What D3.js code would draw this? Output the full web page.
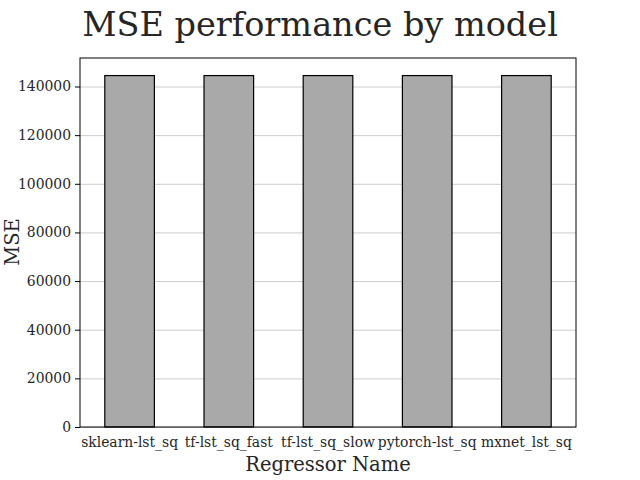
<!DOCTYPE html>
<html><head><meta charset="utf-8">
<script src="https://cdn.jsdelivr.net/npm/d3@7"></script>
<style>body{margin:0;background:#fff}svg{display:block}text{font-family:"DejaVu Serif",serif}</style>
</head><body>
<svg id="c" width="640" height="480"></svg>
<script>
const categories = ["sklearn-lst_sq","tf-lst_sq_fast","tf-lst_sq_slow","pytorch-lst_sq","mxnet_lst_sq"];
const mseValues = [144500,144500,144500,144500,144500];
const yTicks = [0,20000,40000,60000,80000,100000,120000,140000];

const svg = d3.select("#c");
const m = {l:80, r:576, t:58, b:427};
const x = d3.scaleBand().domain(categories).range([m.l, m.r]).paddingInner(0.5).paddingOuter(0.25);
const y = d3.scaleLinear().domain([0, d3.max(mseValues)*1.05]).range([m.b, m.t]);

// grid
svg.append("g").selectAll("line").data(yTicks).join("line")
  .attr("x1", m.l).attr("x2", m.r)
  .attr("y1", d=>y(d)+0.5).attr("y2", d=>y(d)+0.5)
  .attr("stroke", "#cccccc").attr("stroke-width", 1);

// bars
svg.append("g").selectAll("rect").data(categories).join("rect")
  .attr("x", d=>x(d)).attr("width", x.bandwidth())
  .attr("y", (d,i)=>y(mseValues[i])).attr("height", (d,i)=>y(0)-y(mseValues[i]))
  .attr("fill", "#a9a9a9").attr("stroke", "#000").attr("stroke-width", 1.2);

// frame
svg.append("rect").attr("x", m.l).attr("y", m.t).attr("width", m.r-m.l).attr("height", m.b-m.t)
  .attr("fill", "none").attr("stroke", "#000").attr("stroke-width", 1);

// y axis
const ya = svg.append("g").attr("transform", `translate(${m.l},0)`)
  .call(d3.axisLeft(y).tickValues(yTicks).tickSize(5).tickPadding(4).tickFormat(d3.format("d")));
ya.select(".domain").remove();
ya.selectAll("text").attr("font-size", "13.9px").attr("fill", "#262626").attr("font-family", "DejaVu Serif");
ya.selectAll("line").attr("stroke", "#000");

// x axis
const xa = svg.append("g").attr("transform", `translate(0,${m.b})`)
  .call(d3.axisBottom(x).tickSize(0).tickPadding(10));
xa.select(".domain").remove();
xa.selectAll("text").attr("font-size", "13.9px").attr("fill", "#262626").attr("font-family", "DejaVu Serif");

// labels
svg.append("text").attr("x", 320).attr("y", 36).attr("text-anchor", "middle")
  .attr("font-size", "33.5px").attr("fill", "#262626").text("MSE performance by model");
svg.append("text").attr("x", 328).attr("y", 471).attr("text-anchor", "middle")
  .attr("font-size", "19.5px").attr("fill", "#262626").text("Regressor Name");
svg.append("text").attr("transform", "translate(19,242) rotate(-90)").attr("text-anchor", "middle")
  .attr("font-size", "19.5px").attr("fill", "#262626").text("MSE");
</script>
</body></html>
